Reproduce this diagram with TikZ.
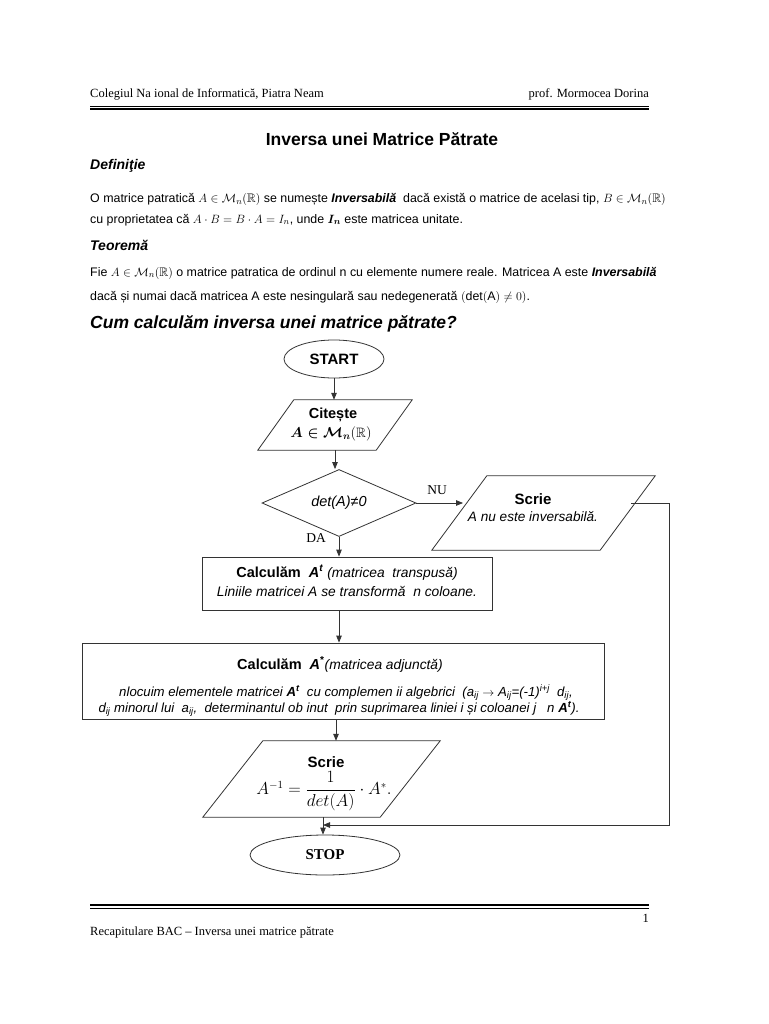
\documentclass[tikz,border=0pt]{standalone}
\usepackage{amsmath,amssymb}
\usepackage{fontspec}
\setmainfont{Liberation Sans}
\newfontfamily\tmsfont{Liberation Serif}
\usetikzlibrary{shapes.geometric,arrows.meta,calc}
\begin{document}
\begin{tikzpicture}[x=1pt,y=-1pt,
  ln/.style={draw=black!80,line width=0.8pt},
  arr/.style={ln,-{Triangle[length=7pt,width=5.5pt]}},
  txt/.style={inner sep=0pt,anchor=base west,font=\fontsize{12.4}{14}\selectfont},
  hdr/.style={inner sep=0pt,font=\tmsfont\fontsize{12.5}{14}\selectfont},
  heading/.style={inner sep=0pt,anchor=base west,font=\bfseries\itshape\fontsize{14}{16}\selectfont},
  term/.style={ellipse,ln,inner sep=0pt},
  procbox/.style={rectangle,ln,inner sep=0pt},
  para/.style={rectangle,inner sep=0pt},
  fl/.style={inner sep=0pt,anchor=base,font=\fontsize{13.8}{16}\selectfont},
  flb/.style={inner sep=0pt,anchor=base,font=\bfseries\fontsize{15}{17}\selectfont},
]
\useasboundingbox[fill=white] (0,0) rectangle (768,1024);

% header
\node[hdr,anchor=base west] (h1) at (90,98) {Colegiul Na ional de Informatică, Piatra Neam};
\node[hdr,anchor=base east] (h2) at (649,98) {prof. Mormocea Dorina};
\draw[line width=0.6pt] (90,106) -- (649,106);
\draw[line width=2.6pt] (90,109) -- (649,109);

% footer
\draw[line width=2.6pt] (90,905) -- (649,905);
\draw[line width=0.6pt] (90,908.3) -- (649,908.3);
\node[hdr,anchor=base east] (pg) at (649,922) {1};
\node[hdr,anchor=base west] (f1) at (90,935) {Recapitulare BAC – Inversa unei matrice pătrate};

% title and text
\node[inner sep=0pt,anchor=base,font=\bfseries\fontsize{17.5}{20}\selectfont] (title) at (382,146) {Inversa unei Matrice Pătrate};
\node[heading] (def) at (90,170) {Definiţie};
\node[txt] (d1) at (90,203) {O matrice patratică $A\in\mathcal{M}_n(\mathbb{R})$ se numește \textbf{\textit{Inversabilă}}\ \ dacă există o matrice de acelasi tip, $B\in\mathcal{M}_n(\mathbb{R})$};
\node[txt] (d2) at (90,223) {cu proprietatea că $A\cdot B = B\cdot A = I_n$, unde $\boldsymbol{I_n}$ este matricea unitate.};
\node[heading] (teo) at (90,250) {Teoremă};
\node[txt] (t1) at (90,276) {Fie $A\in\mathcal{M}_n(\mathbb{R})$ o matrice patratica de ordinul n cu elemente numere reale. Matricea A este \textbf{\textit{Inversabilă}}};
\node[txt] (t2) at (90,300) {dacă și numai dacă matricea A este nesingulară sau nedegenerată $(\mathrm{det(A)}\neq 0)$.};
\node[heading,font=\bfseries\itshape\fontsize{17.5}{20}\selectfont] (cum) at (90,328) {Cum calculăm inversa unei matrice pătrate?};

% flowchart
\node[term,minimum width=100,minimum height=38,font=\bfseries\fontsize{15}{17}\selectfont] (start) at (334,359) {START};

\node[para,minimum width=118,minimum height=50] (read) at (335,425) {};
\draw[ln] ($(read.south west)+(-18,0)$) -- ($(read.south east)+(-18,0)$) -- ($(read.north east)+(18,0)$) -- ($(read.north west)+(18,0)$) -- cycle;
\node[flb,font=\bfseries\fontsize{14.5}{16}\selectfont] (read1) at (333,418) {Citește};
\node[fl,font=\fontsize{13.6}{15}\selectfont] (read2) at (331,437) {$\boldsymbol{A\in\mathcal{M}_n}(\mathbb{R})$};

\node[diamond,ln,inner sep=0pt,aspect=2.3,minimum width=154,minimum height=67,font=\itshape\fontsize{14.5}{16}\selectfont] (dec) at (339,503) {det(A)≠0};

\node[para,minimum width=168,minimum height=74] (wr1) at (543.5,513) {};
\draw[ln] ($(wr1.south west)+(-27.5,0)$) -- ($(wr1.south east)+(-27.5,0)$) -- ($(wr1.north east)+(27.5,0)$) -- ($(wr1.north west)+(27.5,0)$) -- cycle;
\node[flb] (wr1a) at (533,504) {Scrie};
\node[fl,font=\itshape\fontsize{13.6}{15}\selectfont] (wr1b) at (533,521) {A nu este inversabilă.};

\node[procbox,minimum width=290,minimum height=53] (tr) at (347,583.5) {};
\node[fl] (tr1) at (347,577) {\bfseries\fontsize{14.5}{16}\selectfont Calculăm\ \ \textit{A\textsuperscript{t}}\ \mdseries\itshape\fontsize{13.8}{16}\selectfont(matricea\ \ transpusă)};
\node[fl] (tr2) at (347,596) {\itshape Liniile matricei A se transformă\ \ n coloane.};

\node[procbox,minimum width=522,minimum height=76] (adj) at (343,681) {};
\node[fl] (a1) at (340,669) {\bfseries\fontsize{14.5}{16}\selectfont Calculăm\ \ \textit{A}\textsuperscript{*}\mdseries\itshape\fontsize{13.8}{16}\selectfont(matricea adjunctă)};
\node[fl,font=\itshape\fontsize{13.2}{15}\selectfont] (a2) at (346,696) { nlocuim elementele matricei \textbf{A\textsuperscript{t}}\ \ cu complemen ii algebrici\ \ (a\textsubscript{ij} $\rightarrow$ A\textsubscript{ij}=(-1)\textsuperscript{i+j}\ \ d\textsubscript{ij},};
\node[fl,font=\itshape\fontsize{13.2}{15}\selectfont] (a3) at (339,712) {d\textsubscript{ij} minorul lui\ \ a\textsubscript{ij},\ \ determinantul ob inut\ \ prin suprimarea liniei i și coloanei j\ \ \ n \textbf{A\textsuperscript{t}}).};

\node[para,minimum width=177,minimum height=76] (wr2) at (321.5,779) {};
\draw[ln] ($(wr2.south west)+(-30,0)$) -- ($(wr2.south east)+(-30,0)$) -- ($(wr2.north east)+(30,0)$) -- ($(wr2.north west)+(30,0)$) -- cycle;
\node[flb] (wr2a) at (326,767) {Scrie};
\node[inner sep=0pt,font=\fontsize{16}{18}\selectfont] (wr2b) at (324,791) {$A^{-1}\;{=}\;\dfrac{1}{det(A)}\cdot A^{*}.$};

\node[term,minimum width=150,minimum height=40,font=\tmsfont\bfseries\fontsize{15}{17}\selectfont] (stop) at (325,855) {STOP};

% labels
\node[hdr,anchor=base,font=\tmsfont\fontsize{13.5}{15}\selectfont] (nu) at (437,494) {NU};
\node[hdr,anchor=base,font=\tmsfont\fontsize{13.5}{15}\selectfont] (da) at (316,542) {DA};

% connectors
\coordinate (wr1in) at ($(dec.east -| wr1.west)+(27.5*10/74,0)$);
\coordinate (wr1out) at ($(dec.east -| wr1.east)+(27.5*10/74,0)$);
\coordinate (rc1) at (669,503);
\coordinate (rc2) at (669,825);
\coordinate (join) at (323,825);
\draw[arr] (start.south) -- (start.south |- read.north);
\draw[arr] (read.south) -- (read.south |- dec.north);
\draw[arr] (dec.east) -- (wr1in);
\draw[arr] (dec.south) -- (dec.south |- tr.north);
\draw[arr] (tr.south -| dec.south) -- (dec.south |- adj.north);
\draw[arr] (adj.south -| 336,0) -- (wr2.north -| 336,0);
\draw[arr] (wr2.south -| join) -- (stop.north -| join);
\draw[arr] (wr1out) -- (rc1) -- (rc2) -- (join);
\end{tikzpicture}
\end{document}
